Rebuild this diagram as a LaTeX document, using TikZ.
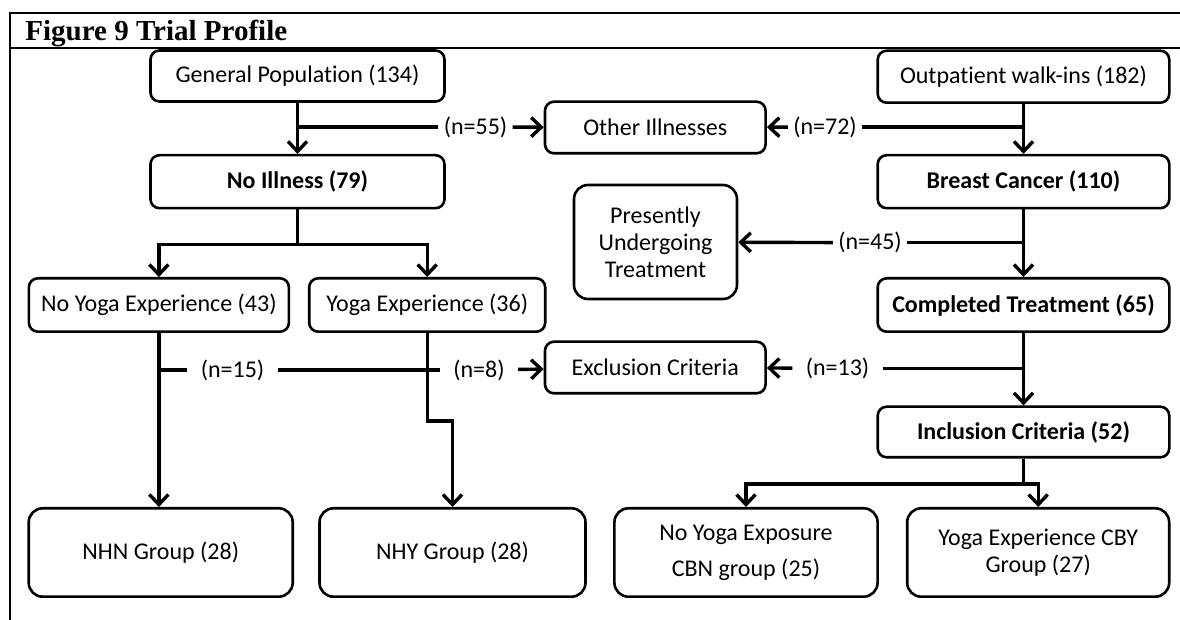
\documentclass[tikz,border=0pt]{standalone}
\usepackage{fontspec}
\setmainfont{Carlito}[Ligatures=NoCommon]
\newfontfamily\titlefont{Liberation Serif}
\usetikzlibrary{arrows.meta}

\begin{document}
\begin{tikzpicture}[x=0.5pt,y=-0.5pt,
    box/.style={draw,line width=1.3pt,rounded corners=4.5pt,align=center,
      inner sep=2pt,font=\fontsize{12}{13.5}\selectfont},
    boldbox/.style={box,font=\fontsize{12}{13.5}\selectfont\bfseries},
    bigbox/.style={box,rounded corners=7pt},
    lbl/.style={inner xsep=2.5pt,inner ysep=1pt,font=\fontsize{12}{13.5}\selectfont},
    widelbl/.style={lbl,inner xsep=6.5pt},
    link/.style={line width=1.7pt},
    arr/.style={link,-{Straight Barb[length=5pt,width=9.5pt]}}]
    \useasboundingbox (0,0) rectangle (1180,620);
    % frame and title
    \draw[line width=1pt] (10,620) -- (10,13.3) -- (1180,13.3);
    \draw[line width=1pt] (10,48.3) -- (1180,48.3);
    \node[anchor=base west,inner sep=0pt,
      font=\titlefont\bfseries\fontsize{14.5}{16}\selectfont] (title) at (25,41)
      {Figure 9 Trial Profile};
    % left column
    \node[box,minimum width=147pt,minimum height=25.5pt] (genpop) at (297.5,76)
      {General Population (134)};
    \node[boldbox,minimum width=147pt,minimum height=26.5pt] (noill) at (297.5,181.7)
      {No Illness (79)};
    \node[box,minimum width=130pt,minimum height=26.7pt] (nye) at (158.9,305)
      {No Yoga Experience (43)};
    \node[box,minimum width=118pt,minimum height=26.7pt] (ye) at (427.2,305)
      {Yoga Experience (36)};
    \node[bigbox,minimum width=132pt,minimum height=44.2pt] (nhn) at (160.7,552.5)
      {NHN Group (28)};
    \node[bigbox,minimum width=133pt,minimum height=44.2pt] (nhy) at (452.5,552.5)
      {NHY Group (28)};
    % middle column
    \node[box,minimum width=110.3pt,minimum height=25.8pt] (othill) at (655.3,127.5)
      {Other Illnesses};
    \node[bigbox,minimum width=81.5pt,minimum height=57pt] (present) at (655.5,242)
      {Presently\\Undergoing\\Treatment};
    \node[box,minimum width=110.3pt,minimum height=25.8pt] (excl) at (655.3,367.5)
      {Exclusion Criteria};
    % right column
    \node[box,minimum width=145.8pt,minimum height=26pt] (outpat) at (1023.5,76.7)
      {Outpatient walk-ins (182)};
    \node[boldbox,minimum width=145.8pt,minimum height=26.5pt] (breast) at (1023.5,181.7)
      {Breast Cancer (110)};
    \node[boldbox,minimum width=145.8pt,minimum height=26.7pt] (compl) at (1023.5,305)
      {Completed Treatment (65)};
    \node[boldbox,minimum width=145.8pt,minimum height=25.3pt] (incl) at (1023.5,432)
      {Inclusion Criteria (52)};
    \node[bigbox,minimum width=131.6pt,minimum height=44.2pt] (cbn) at (746,552.5)
      {No Yoga Exposure\\[4.5pt]CBN group (25)};
    \node[bigbox,minimum width=131pt,minimum height=44.2pt] (cby) at (1038.2,552.5)
      {Yoga Experience CBY\\Group (27)};
    % count labels
    \node[lbl] (n55) at (475.5,127) {(n=55)};
    \node[lbl] (n72) at (825,127) {(n=72)};
    \node[lbl] (n45) at (870,242.7) {(n=45)};
    \node[widelbl] (n15) at (232.5,370) {(n=15)};
    \node[widelbl] (n8) at (479,370) {(n=8)};
    \node[widelbl] (n13) at (837.5,368.3) {(n=13)};
    % main flow
    \draw[arr] (genpop) -- (noill);
    \draw[arr] (outpat) -- (breast);
    \draw[arr] (breast) -- (compl);
    \draw[arr] (compl) -- (incl);
    \draw[link] (noill.south) -- ++(0,35) coordinate (fork1);
    \draw[arr] (fork1) -| (nye.north);
    \draw[arr] (fork1) -| (ye.north);
    \draw[arr] (nye.south) -- (nye.south |- nhn.north);
    \draw[arr] (ye.south) -- ++(0,88) -| (nhy.north);
    \draw[link] (incl.south) -- ++(0,25.4) coordinate (fork2);
    \draw[arr] (fork2) -| (cbn.north);
    \draw[arr] (fork2) -| (cby.north);
    % exits
    \coordinate (j55) at (genpop.south |- n55);
    \coordinate (j72) at (outpat.south |- n72);
    \coordinate (j45) at (breast.south |- n45);
    \coordinate (j15) at (nye.south |- n15);
    \coordinate (j13) at (compl.south |- n13);
    \draw[link] (j55) -- (n55);
    \draw[arr] (n55) -- (othill);
    \draw[link] (j72) -- (n72);
    \draw[arr] (n72) -- (othill);
    \draw[link] (j45) -- (n45);
    \draw[arr] (n45) -- (present);
    \draw[link] (j15) -- (n15) -- (n8);
    \draw[arr] (n8) -- (excl);
    \draw[link] (j13) -- (n13);
    \draw[arr] (n13) -- (excl);
\end{tikzpicture}
\end{document}
